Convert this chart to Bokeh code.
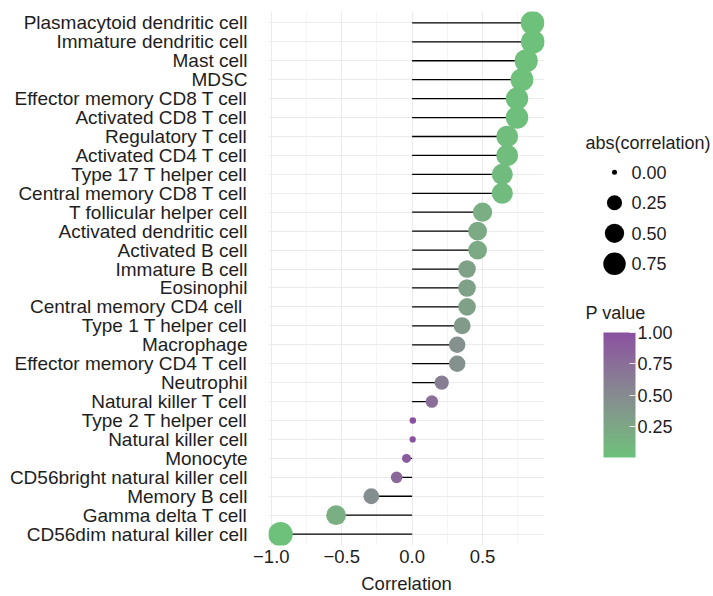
import math
from bokeh.plotting import figure
from bokeh.layouts import row
from bokeh.models import (FactorRange, Range1d, FixedTicker, ColumnDataSource,
                          LinearColorMapper, ColorBar, PrintfTickFormatter)
from bokeh.transform import transform
from bokeh.embed import file_html
from bokeh.resources import INLINE
from bokeh.core.properties import value

# ---------------- data ----------------
cells = [
    "Plasmacytoid dendritic cell", "Immature dendritic cell", "Mast cell", "MDSC",
    "Effector memory CD8 T cell", "Activated CD8 T cell", "Regulatory T cell",
    "Activated CD4 T cell", "Type 17 T helper cell", "Central memory CD8 T cell",
    "T follicular helper cell", "Activated dendritic cell", "Activated B cell",
    "Immature B cell", "Eosinophil", "Central memory CD4  cell", "Type 1 T helper cell",
    "Macrophage", "Effector memory CD4 T cell", "Neutrophil", "Natural killer T cell",
    "Type 2 T helper cell", "Natural killer cell", "Monocyte",
    "CD56bright natural killer cell", "Memory B cell", "Gamma delta T cell",
    "CD56dim natural killer cell",
]
correlation = [0.855, 0.857, 0.81, 0.78, 0.745, 0.745, 0.675, 0.675, 0.64, 0.64,
               0.50, 0.465, 0.465, 0.39, 0.39, 0.39, 0.355, 0.32, 0.32, 0.21, 0.14,
               0.005, 0.004, -0.04, -0.11, -0.29, -0.54, -0.935]
p_value = [0.00, 0.00, 0.01, 0.01, 0.02, 0.02, 0.04, 0.04, 0.06, 0.06,
           0.17, 0.22, 0.22, 0.30, 0.30, 0.30, 0.36, 0.45, 0.45, 0.62, 0.74,
           1.00, 0.99, 0.92, 0.80, 0.48, 0.17, 0.00]
x_ticks = [-1.0, -0.5, 0.0, 0.5]
x_minor_ticks = [-0.75, -0.25, 0.25, 0.75]
x_tick_labels = ["\u22121.0", "\u22120.5", "0.0", "0.5"]
size_breaks = [0.00, 0.25, 0.50, 0.75]
size_break_labels = ["0.00", "0.25", "0.50", "0.75"]
p_breaks = [0.25, 0.50, 0.75, 1.00]

# ---------------- styling helpers ----------------
FONT = "Liberation Sans"
TXT = "#1e1e1e"
LOW_COL = "#6DC17B"
HIGH_COL = "#8A50A0"

# page geometry (pixels)
FIG_H = 596
MAIN_W = 568
FRAME_LEFT, FRAME_RIGHT = 268, 544
FRAME_TOP, FRAME_BOTTOM = 11, 546


def _lin(c):
    c = c / 255.0
    return c / 12.92 if c <= 0.04045 else ((c + 0.055) / 1.055) ** 2.4


def _srgb(c):
    c = max(0.0, min(1.0, c))
    v = 12.92 * c if c <= 0.0031308 else 1.055 * c ** (1 / 2.4) - 0.055
    return int(round(max(0.0, min(1.0, v)) * 255))


_WP = (0.95047, 1.0, 1.08883)


def _f(t):
    return t ** (1 / 3) if t > 0.008856 else 7.787 * t + 16 / 116


def _finv(t):
    return t ** 3 if t ** 3 > 0.008856 else (t - 16 / 116) / 7.787


def hex_to_lab(h):
    r, g, b = (_lin(int(h[i:i + 2], 16)) for i in (1, 3, 5))
    X = 0.4124 * r + 0.3576 * g + 0.1805 * b
    Y = 0.2126 * r + 0.7152 * g + 0.0722 * b
    Z = 0.0193 * r + 0.1192 * g + 0.9505 * b
    fx, fy, fz = _f(X / _WP[0]), _f(Y / _WP[1]), _f(Z / _WP[2])
    return 116 * fy - 16, 500 * (fx - fy), 200 * (fy - fz)


def lab_to_hex(L, a, b):
    fy = (L + 16) / 116
    fx = fy + a / 500
    fz = fy - b / 200
    X, Y, Z = _finv(fx) * _WP[0], _finv(fy) * _WP[1], _finv(fz) * _WP[2]
    r = 3.2406 * X - 1.5372 * Y - 0.4986 * Z
    g = -0.9689 * X + 1.8758 * Y + 0.0415 * Z
    bb = 0.0557 * X - 0.2040 * Y + 1.0570 * Z
    return "#%02x%02x%02x" % (_srgb(r), _srgb(g), _srgb(bb))


lo, hi = hex_to_lab(LOW_COL), hex_to_lab(HIGH_COL)
palette = [lab_to_hex(*[lo[k] + (hi[k] - lo[k]) * i / 255 for k in range(3)]) for i in range(256)]
mapper = LinearColorMapper(palette=palette, low=0.0, high=1.0)

max_abs = max(abs(c) for c in correlation)


def dot_size(v):
    return 5.0 + 19.5 * math.sqrt(abs(v) / max_abs)


src = ColumnDataSource(dict(
    cell=cells, corr=correlation, p=p_value, zero=[0.0] * len(cells),
    size=[dot_size(c) for c in correlation],
))

# ---------------- main panel ----------------
p = figure(width=MAIN_W, height=FIG_H,
           y_range=FactorRange(factors=cells[::-1], range_padding=0.1,
                               range_padding_units="absolute"),
           x_range=Range1d(-1.02, 0.94),
           output_backend="svg", toolbar_location=None,
           min_border_left=FRAME_LEFT, min_border_right=MAIN_W - FRAME_RIGHT,
           min_border_top=FRAME_TOP, min_border_bottom=FIG_H - FRAME_BOTTOM)
p.outline_line_color = None
p.background_fill_color = "white"
p.border_fill_color = "white"

p.xaxis.ticker = FixedTicker(ticks=x_ticks, minor_ticks=x_minor_ticks)
p.xaxis.major_label_overrides = dict(zip(x_ticks, x_tick_labels))
p.xaxis.axis_label = "Correlation"
for ax in (p.xaxis, p.yaxis):
    ax.axis_line_color = None
    ax.major_tick_line_color = None
    ax.minor_tick_line_color = None
    ax.major_tick_out = 0
    ax.major_tick_in = 0
    ax.major_label_text_font = FONT
    ax.major_label_text_color = TXT
p.xaxis.major_label_text_font_size = "18.5px"
p.yaxis.major_label_text_font_size = "19px"
p.xaxis.major_label_standoff = 0
p.xaxis.axis_label_standoff = 7
p.xaxis.axis_label_text_font = FONT
p.xaxis.axis_label_text_font_size = "18.5px"
p.xaxis.axis_label_text_font_style = "normal"
p.xaxis.axis_label_text_color = TXT
p.yaxis.major_label_standoff = 21

p.xgrid.grid_line_color = "#ebebeb"
p.xgrid.grid_line_width = 1.1
p.xgrid.minor_grid_line_color = "#f0f0f0"
p.xgrid.minor_grid_line_width = 0.7
p.ygrid.grid_line_color = "#ebebeb"
p.ygrid.grid_line_width = 1.1

p.segment(x0="zero", y0="cell", x1="corr", y1="cell", source=src,
          line_color="black", line_width=1.3)
p.scatter(x="corr", y="cell", size="size", source=src,
          fill_color=transform("p", mapper), line_color=None)

# ---------------- legend panel ----------------
# (its frame is aligned with the main frame by the row layout, so its
#  ranges are expressed in page pixels over that same vertical extent)
LEG_W = 713 - MAIN_W
lg = figure(width=LEG_W, height=FIG_H, x_range=Range1d(MAIN_W, 713),
            y_range=Range1d(FRAME_BOTTOM, FRAME_TOP),
            output_backend="svg", toolbar_location=None,
            x_axis_location=None, y_axis_location=None,
            min_border_left=0, min_border_right=0,
            min_border_top=FRAME_TOP, min_border_bottom=FIG_H - FRAME_BOTTOM)
lg.outline_line_color = None
lg.grid.visible = False
lg.background_fill_color = "white"
lg.border_fill_color = "white"

lg.text(x=[585], y=[143], text=["abs(correlation)"], text_font=value(FONT),
        text_font_size="18px", text_baseline="middle", text_align="left", text_color=TXT)
leg_y = [172 + 30.6 * i for i in range(len(size_breaks))]
lg.scatter(x=[614] * len(size_breaks), y=leg_y, size=[dot_size(v) for v in size_breaks],
           fill_color="black", line_color=None)
lg.text(x=[631] * len(size_breaks), y=leg_y, text=size_break_labels, text_font=value(FONT),
        text_font_size="18px", text_baseline="middle", text_align="left", text_color=TXT)
lg.text(x=[585], y=[313], text=["P value"], text_font=value(FONT),
        text_font_size="18px", text_baseline="middle", text_align="left", text_color=TXT)

cb = ColorBar(color_mapper=mapper, ticker=FixedTicker(ticks=p_breaks),
              formatter=PrintfTickFormatter(format="%.2f"),
              orientation="vertical", width=32, height=125,
              location=(603 - MAIN_W, FRAME_BOTTOM - 458), padding=0, margin=0,
              background_fill_alpha=0, border_line_color=None,
              bar_line_color=None,
              major_tick_line_color="white", major_tick_line_alpha=0.8,
              major_tick_in=6, major_tick_out=0,
              minor_tick_line_color=None,
              label_standoff=2,
              major_label_text_font=FONT, major_label_text_font_size="18px",
              major_label_text_color=TXT, major_label_text_baseline="middle")
lg.add_layout(cb, "center")

layout = row(p, lg)
layout.spacing = 0

open("out.html", "w").write(file_html(layout, INLINE))
